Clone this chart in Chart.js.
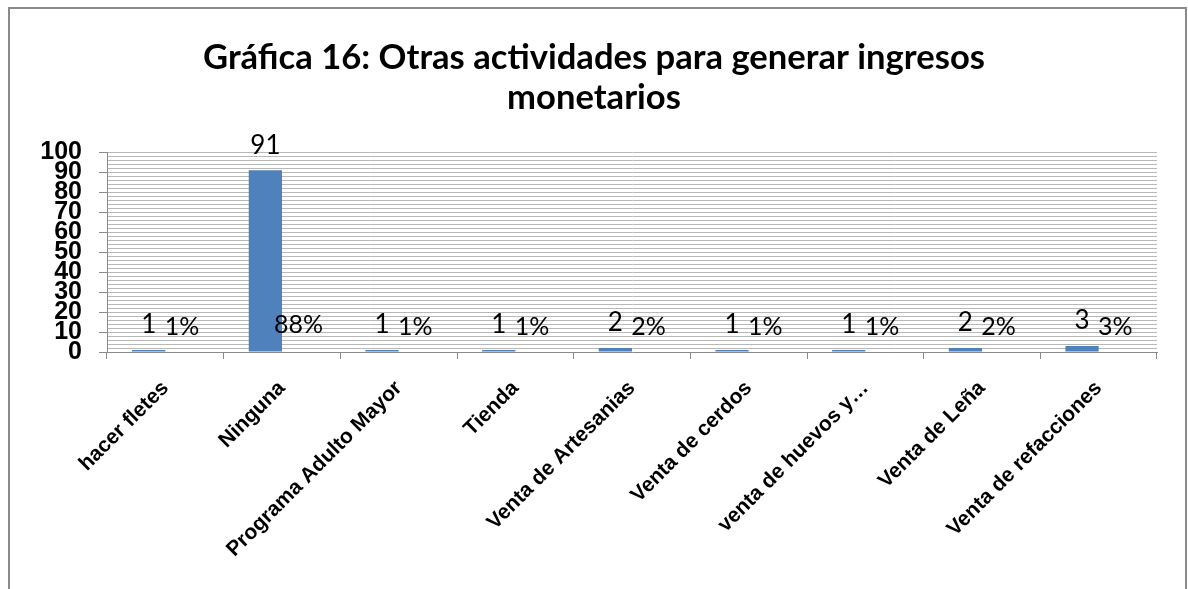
<!DOCTYPE html>
<html>
<head>
<meta charset="utf-8">
<script src="https://cdn.jsdelivr.net/npm/chart.js@4"></script>
<style>
  html, body { margin: 0; padding: 0; background: #fff; }
  #frame { position: absolute; left: 8px; top: 7px; width: 1175px; height: 620px; border: 2px solid #8a8a8a; }
  #wrap { position: absolute; left: 0; top: 0; width: 1188px; height: 589px; }
</style>
</head>
<body>
<div id="frame"></div>
<div id="wrap"><canvas id="chart" width="1188" height="589"></canvas></div>
<script>
const categories = ['hacer fletes', 'Ninguna', 'Programa Adulto Mayor', 'Tienda', 'Venta de Artesanias',
  'Venta de cerdos', 'venta de huevos y…', 'Venta de Leña', 'Venta de refacciones'];
const counts = [1, 91, 1, 1, 2, 1, 1, 2, 3];
const shares = [0.01, 0.88, 0.01, 0.01, 0.02, 0.01, 0.01, 0.02, 0.03];
const yTicks = [0, 10, 20, 30, 40, 50, 60, 70, 80, 90, 100];

// labels above each bar (count, then share as %)
const barLabels = {
  id: 'barLabels',
  afterDatasetsDraw(chart) {
    const ctx = chart.ctx;
    ctx.save();
    ctx.fillStyle = '#000';
    ctx.textAlign = 'center';
    ctx.textBaseline = 'middle';
    chart.data.datasets.forEach((ds, di) => {
      ctx.font = di === 0 ? '26px Lato' : '25px Lato';
      chart.getDatasetMeta(di).data.forEach((el, i) => {
        const v = ds.data[i];
        const txt = di === 0 ? String(v) : Math.round(v * 100) + '%';
        ctx.fillText(txt, el.x, el.y - 25);
      });
    });
    ctx.restore();
  }
};

new Chart(document.getElementById('chart'), {
  type: 'bar',
  data: {
    labels: categories,
    datasets: [
      { label: 'Cantidad', data: counts, backgroundColor: '#4f81bd' },
      { label: 'Porcentaje', data: shares, backgroundColor: 'rgba(79,129,189,0)' }
    ]
  },
  options: {
    responsive: false,
    animation: false,
    categoryPercentage: 0.57,
    barPercentage: 1.0,
    layout: { padding: 0 },
    plugins: {
      legend: { display: false },
      tooltip: { enabled: false },
      title: {
        display: true,
        text: ['Gráfica 16: Otras actividades para generar ingresos', 'monetarios'],
        color: '#000',
        font: { family: 'Lato', size: 34.6, weight: 'bold', lineHeight: 1.16 },
        padding: { top: 38, bottom: 34 }
      }
    },
    scales: {
      x: {
        grid: { offset: true, drawOnChartArea: false, tickLength: 7, color: '#8a8a8a' },
        border: { color: '#8a8a8a' },
        ticks: {
          autoSkip: false, maxRotation: 45, minRotation: 45, padding: 17, color: '#000',
          font: { family: 'Liberation Sans', size: 21, weight: 'bold' }
        },
        afterFit: s => { s.height = 237; }
      },
      y: {
        min: 0, max: 100,
        afterBuildTicks: s => {
          const t = [];
          for (let v = 0; v <= 100; v += 2) t.push({ value: v });
          s.ticks = t;
        },
        grid: {
          color: '#b8b8b8',
          tickLength: 8,
          tickColor: c => (yTicks.includes(c.tick.value) ? '#8a8a8a' : 'rgba(0,0,0,0)')
        },
        border: { color: '#8a8a8a' },
        ticks: {
          autoSkip: false, padding: 17, color: '#000',
          font: { family: 'Liberation Sans', size: 25, weight: 'bold', lineHeight: 1 },
          callback: v => (yTicks.includes(v) ? v : '')
        },
        afterFit: s => { s.width = 107; }
      },
      // empty right-hand gutter so the title stays centred on the page
      gutter: {
        type: 'linear',
        position: 'right',
        display: true,
        grid: { display: false },
        border: { display: false },
        ticks: { display: false },
        afterFit: s => { s.width = 31; }
      }
    }
  },
  plugins: [barLabels]
});
</script>
</body>
</html>
